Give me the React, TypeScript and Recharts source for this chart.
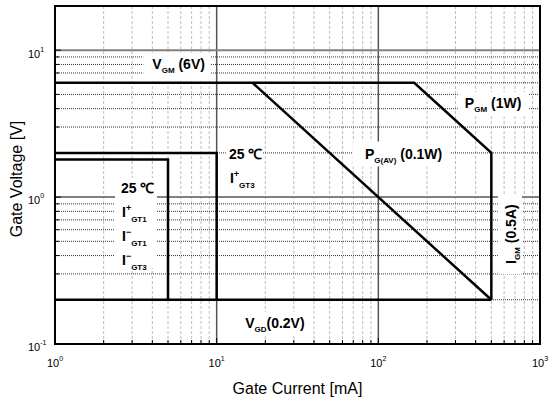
import React from 'react';
import { ComposedChart, Line, Scatter, XAxis, YAxis } from 'recharts';

// ---------- data ----------
const xDomain = [1, 1000];
const yDomain = [0.1, 20];
const xTicks = [1, 2, 3, 4, 5, 6, 7, 8, 9, 10, 20, 30, 40, 50, 60, 70, 80, 90, 100, 200, 300, 400, 500, 600, 700, 800, 900, 1000];
const yTicks = [0.1, 0.2, 0.3, 0.4, 0.5, 0.6, 0.7, 0.8, 0.9, 1, 2, 3, 4, 5, 6, 7, 8, 9, 10];
const xMinorGrid = [2, 3, 4, 5, 6, 7, 8, 9, 20, 30, 40, 50, 60, 70, 80, 90, 200, 300, 400, 500, 600, 700, 800, 900];
const xMajorGrid = [10, 100];
const yMinorGrid = [0.2, 0.3, 0.4, 0.5, 0.6, 0.7, 0.8, 0.9, 2, 3, 4, 5, 6, 7, 8, 9];
const yMajorGrid = [1, 10];

// boundary curves (mA, V)
const vgmPgmIgm = [
  { x: 1, y: 6 },
  { x: 166.7, y: 6 },
  { x: 500, y: 2 },
  { x: 500, y: 0.2 },
];
const vgd = [
  { x: 1, y: 0.2 },
  { x: 500, y: 0.2 },
];
const pgav = [
  { x: 16.67, y: 6 },
  { x: 500, y: 0.2 },
];
const igt3 = [
  { x: 1, y: 2 },
  { x: 10, y: 2 },
  { x: 10, y: 0.2 },
];
const igt1 = [
  { x: 1, y: 1.8 },
  { x: 5, y: 1.8 },
  { x: 5, y: 0.2 },
];
const frame = [
  { x: 1, y: 0.1 },
  { x: 1000, y: 0.1 },
  { x: 1000, y: 20 },
  { x: 1, y: 20 },
  { x: 1, y: 0.1 },
];

// label anchors (data coords)
const labelVGM = [{ x: 4.0, y: 8.1 }];
const labelPGM = [{ x: 343, y: 4.35 }];
const labelPGAV = [{ x: 82.6, y: 1.98 }];
const labelUpper = [{ x: 11.9, y: 1.97 }];
const labelLower = [{ x: 2.56, y: 1.155 }];
const labelIGM = [{ x: 661, y: 0.56 }];
const labelVGD = [{ x: 15, y: 0.139 }];

const FONT = 'Liberation Sans, Arial, sans-serif';

const isPow10 = (v: number) => Math.abs(Math.log10(v) - Math.round(Math.log10(v))) < 1e-6;

const XTick = (props: any) => {
  const { x, y, payload } = props;
  const v = payload.value;
  const major = isPow10(v);
  const e = Math.round(Math.log10(v));
  return (
    <g>
      <line x1={x} y1={y} x2={x} y2={y - (major ? 6 : 4)} stroke="#000" strokeWidth={1} />
      {major && (
        <text x={x} y={y + 23} textAnchor="middle" fontSize={11} fontFamily={FONT} fill="#000">
          <tspan>10</tspan>
          <tspan fontSize={7} dy={-6}>{e}</tspan>
        </text>
      )}
    </g>
  );
};

const YTick = (props: any) => {
  const { x, y, payload } = props;
  const v = payload.value;
  const major = isPow10(v);
  const e = Math.round(Math.log10(v));
  return (
    <g>
      <line x1={x} y1={y} x2={x + (major ? 6 : 4)} y2={y} stroke="#000" strokeWidth={1} />
      {major && (
        <text x={x - 27} y={y + 7.3} textAnchor="start" fontSize={11} fontFamily={FONT} fill="#000">
          <tspan>10</tspan>
          <tspan fontSize={7} dy={-6}>{e}</tspan>
        </text>
      )}
    </g>
  );
};

const textProps = { fontFamily: FONT, fontWeight: 700, fontSize: 14, fill: '#000' } as const;

const box = (x: number, y: number, w: number, h: number) => (
  <rect x={x} y={y} width={w} height={h} fill="#fff" stroke="none" />
);

const shapeVGM = (p: any) => {
  const { cx, cy } = p;
  return (
    <g>
      {box(cx - 9, cy - 11, 67, 26)}
      <text x={cx} y={cy + 5} {...textProps}>
        <tspan>V</tspan>
        <tspan fontSize={8} dy={4}>GM</tspan>
        <tspan dy={-4}> (6V)</tspan>
      </text>
    </g>
  );
};

const shapePGM = (p: any) => {
  const { cx, cy } = p;
  return (
    <g>
      {box(cx - 7, cy - 11, 71, 24)}
      <text x={cx} y={cy + 5} {...textProps}>
        <tspan>P</tspan>
        <tspan fontSize={8} dy={4}>GM</tspan>
        <tspan dy={-4}> (1W)</tspan>
      </text>
    </g>
  );
};

const shapePGAV = (p: any) => {
  const { cx, cy } = p;
  return (
    <g>
      {box(cx - 12, cy - 12, 97, 25)}
      <text x={cx} y={cy + 5} {...textProps}>
        <tspan>P</tspan>
        <tspan fontSize={8} dy={4}>G(AV)</tspan>
        <tspan dy={-4}> (0.1W)</tspan>
      </text>
    </g>
  );
};

const ILabel = ({ x, y, sign, sub }: { x: number; y: number; sign: string; sub: string }) => (
  <text x={x} y={y} {...textProps}>
    <tspan>I</tspan>
    <tspan fontSize={9} dy={-6}>{sign}</tspan>
    <tspan fontSize={8} dy={11}>{sub}</tspan>
  </text>
);

const shapeUpper = (p: any) => {
  const { cx, cy } = p;
  return (
    <g>
      {box(cx - 3, cy - 10, 37, 43)}
      <text x={cx} y={cy + 5} {...textProps}>25 ℃</text>
      <ILabel x={cx + 1} y={cy + 29} sign="+" sub="GT3" />
    </g>
  );
};

const shapeLower = (p: any) => {
  const { cx, cy } = p;
  return (
    <g>
      {box(cx - 6, cy - 10, 42, 90)}
      <text x={cx} y={cy + 5} {...textProps}>25 ℃</text>
      <ILabel x={cx + 1} y={cy + 29.5} sign="+" sub="GT1" />
      <ILabel x={cx + 1} y={cy + 53.5} sign="−" sub="GT1" />
      <ILabel x={cx + 1} y={cy + 77} sign="−" sub="GT3" />
    </g>
  );
};

const shapeIGM = (p: any) => {
  const { cx, cy } = p;
  return (
    <g>
      {box(cx - 13, cy - 40, 24, 80)}
      <g transform={`rotate(-90, ${cx}, ${cy})`}>
        <text x={cx} y={cy + 5} textAnchor="middle" {...textProps}>
          <tspan>I</tspan>
          <tspan fontSize={8} dy={4}>GM</tspan>
          <tspan dy={-4}> (0.5A)</tspan>
        </text>
      </g>
    </g>
  );
};

const shapeVGD = (p: any) => {
  const { cx, cy } = p;
  return (
    <g>
      {box(cx - 5, cy - 11, 68, 24)}
      <text x={cx} y={cy + 5} {...textProps}>
        <tspan>V</tspan>
        <tspan fontSize={8} dy={4}>GD</tspan>
        <tspan dy={-4}>(0.2V)</tspan>
      </text>
    </g>
  );
};

const lineCommon = {
  dataKey: 'y',
  dot: false,
  activeDot: false,
  isAnimationActive: false,
  legendType: 'none',
} as const;

export default function App() {
  return (
    <div style={{ position: 'absolute', left: 0, top: 0, width: 549, height: 405, background: '#fff' }}>
      <ComposedChart width={549} height={405} margin={{ top: 6, right: 9, bottom: 0, left: 0 }}>
        <XAxis
          dataKey="x"
          type="number"
          scale="log"
          domain={xDomain}
          ticks={xTicks}
          interval={0}
          height={61}
          axisLine={false}
          tickLine={false}
          tickSize={0}
          tickMargin={0}
          tick={XTick}
          label={{
            content: (p: any) => {
              const vb = p && p.viewBox ? p.viewBox : { x: 55, y: 344, width: 485, height: 61 };
              return (
                <text x={vb.x + vb.width / 2} y={vb.y + 50} textAnchor="middle" fontSize={16} fontFamily={FONT} fill="#000">
                  Gate Current [mA]
                </text>
              );
            },
          }}
        />
        <YAxis
          dataKey="y"
          type="number"
          scale="log"
          domain={yDomain}
          ticks={yTicks}
          interval={0}
          width={55}
          axisLine={false}
          tickLine={false}
          tickSize={0}
          tickMargin={0}
          tick={YTick}
          label={{
            content: (p: any) => {
              const vb = p && p.viewBox ? p.viewBox : { x: 0, y: 6, width: 55, height: 338 };
              const tx = vb.x + 22;
              const ty = vb.y + 173;
              return (
                <text x={tx} y={ty} textAnchor="middle" fontSize={16} fontFamily={FONT} fill="#000" transform={`rotate(-90, ${tx}, ${ty})`}>
                  Gate Voltage [V]
                </text>
              );
            },
          }}
        />

        {xMinorGrid.map((v) => (
          <Line key={'xm' + v} {...lineCommon} data={[{ x: v, y: yDomain[0] }, { x: v, y: yDomain[1] }]} stroke="#bdbdbd" strokeWidth={1} strokeDasharray="3 2" />
        ))}
        {yMinorGrid.map((v) => (
          <Line key={'ym' + v} {...lineCommon} data={[{ x: xDomain[0], y: v }, { x: xDomain[1], y: v }]} stroke="#333" strokeWidth={1} strokeDasharray="1 1" />
        ))}
        {xMajorGrid.map((v) => (
          <Line key={'xM' + v} {...lineCommon} data={[{ x: v, y: yDomain[0] }, { x: v, y: yDomain[1] }]} stroke="#555" strokeWidth={1.5} />
        ))}
        {yMajorGrid.map((v) => (
          <Line key={'yM' + v} {...lineCommon} data={[{ x: xDomain[0], y: v }, { x: xDomain[1], y: v }]} stroke="#808080" strokeWidth={2} />
        ))}

        <Line {...lineCommon} data={frame} stroke="#000" strokeWidth={2} strokeLinecap="square" strokeLinejoin="miter" />

        <Line {...lineCommon} data={vgmPgmIgm} stroke="#000" strokeWidth={2.5} strokeLinejoin="miter" />
        <Line {...lineCommon} data={vgd} stroke="#000" strokeWidth={2.5} />
        <Line {...lineCommon} data={pgav} stroke="#000" strokeWidth={2.5} />
        <Line {...lineCommon} data={igt3} stroke="#000" strokeWidth={2.5} strokeLinejoin="miter" />
        <Line {...lineCommon} data={igt1} stroke="#000" strokeWidth={2.5} strokeLinejoin="miter" />

        <Scatter data={labelVGM} dataKey="y" shape={shapeVGM} isAnimationActive={false} legendType="none" />
        <Scatter data={labelPGM} dataKey="y" shape={shapePGM} isAnimationActive={false} legendType="none" />
        <Scatter data={labelPGAV} dataKey="y" shape={shapePGAV} isAnimationActive={false} legendType="none" />
        <Scatter data={labelUpper} dataKey="y" shape={shapeUpper} isAnimationActive={false} legendType="none" />
        <Scatter data={labelLower} dataKey="y" shape={shapeLower} isAnimationActive={false} legendType="none" />
        <Scatter data={labelIGM} dataKey="y" shape={shapeIGM} isAnimationActive={false} legendType="none" />
        <Scatter data={labelVGD} dataKey="y" shape={shapeVGD} isAnimationActive={false} legendType="none" />
      </ComposedChart>
    </div>
  );
}
